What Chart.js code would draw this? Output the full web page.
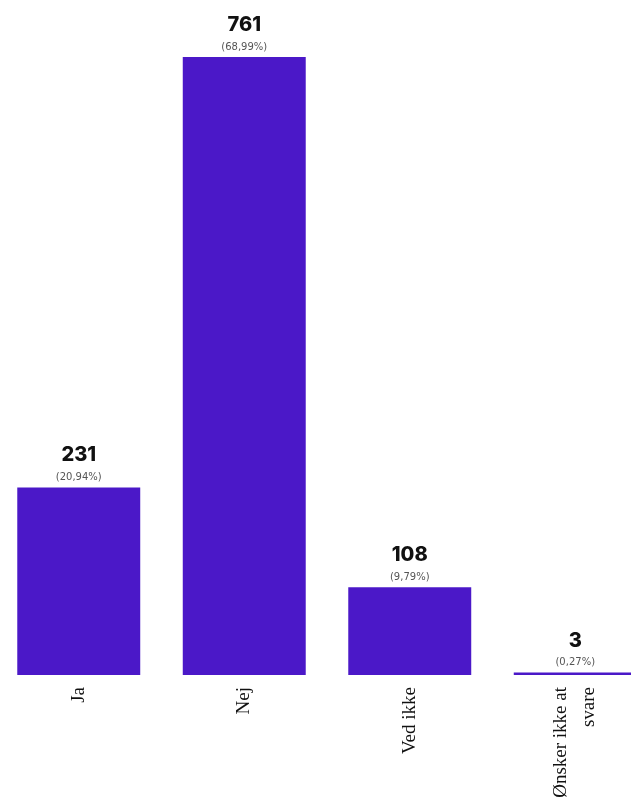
<!DOCTYPE html>
<html>
<head>
<meta charset="utf-8">
<script src="https://cdn.jsdelivr.net/npm/chart.js@4"></script>
<style>
    html, body { margin: 0; padding: 0; background: #fff; overflow: hidden; }
    #wrap { position: absolute; left: -4px; top: 0; width: 662px; height: 801px; }
</style>
</head>
<body>
<div id="wrap"><canvas id="grafico"></canvas></div>
<script>
// Datos de la gráfica
const kategorier = ['Ja', 'Nej', 'Ved ikke', ['Ønsker ikke at', 'svare']];
const antal = [231, 761, 108, 3];
const procenter = ['(20,94%)', '(68,99%)', '(9,79%)', '(0,27%)'];

const barColor = '#4b18c8';

// Etiquetas encima de cada barra: número y porcentaje
const etiquetasPlugin = {
    id: 'etiquetas',
    beforeDraw(chart) {
        // centrar las etiquetas de varias líneas sobre su barra
        const x = chart.scales.x;
        x.getLabelItems().forEach(item => {
            if (Array.isArray(item.label) && !item._centrado) {
                const lh = item.font.lineHeight;
                item.options.translation[0] -= (item.label.length - 1) * lh / 2;
                item._centrado = true;
            }
        });
    },
    afterDatasetsDraw(chart) {
        const ctx = chart.ctx;
        const meta = chart.getDatasetMeta(0);
        ctx.save();
        ctx.textAlign = 'center';
        meta.data.forEach((bar, i) => {
            const top = Math.min(bar.y, bar.base);
            ctx.fillStyle = '#111';
            ctx.font = '800 20px Inter';
            ctx.textBaseline = 'alphabetic';
            ctx.fillText(String(antal[i]), bar.x, top - 26);
            ctx.fillStyle = '#555';
            ctx.font = '10px "DejaVu Sans"';
            ctx.textBaseline = 'middle';
            ctx.fillText(procenter[i], bar.x, top - 10);
        });
        ctx.restore();
    }
};

new Chart(document.getElementById('grafico'), {
    type: 'bar',
    data: {
        labels: kategorier,
        datasets: [{
            data: antal,
            backgroundColor: barColor,
            barPercentage: 0.743,
            categoryPercentage: 1
        }]
    },
    options: {
        responsive: true,
        maintainAspectRatio: false,
        animation: false,
        layout: { padding: { top: 57, left: 0, right: 0, bottom: 0 } },
        plugins: { legend: { display: false }, tooltip: { enabled: false } },
        scales: {
            x: {
                grid: { display: false },
                border: { display: false },
                ticks: {
                    color: '#111',
                    font: { family: '"Liberation Serif"', size: 19, lineHeight: 1.45 },
                    maxRotation: 90,
                    minRotation: 90,
                    padding: 4
                },
                afterFit(scale) { scale.height = 126; }
            },
            y: {
                display: false,
                min: 0,
                max: 761
            }
        }
    },
    plugins: [etiquetasPlugin]
});
</script>
</body>
</html>
